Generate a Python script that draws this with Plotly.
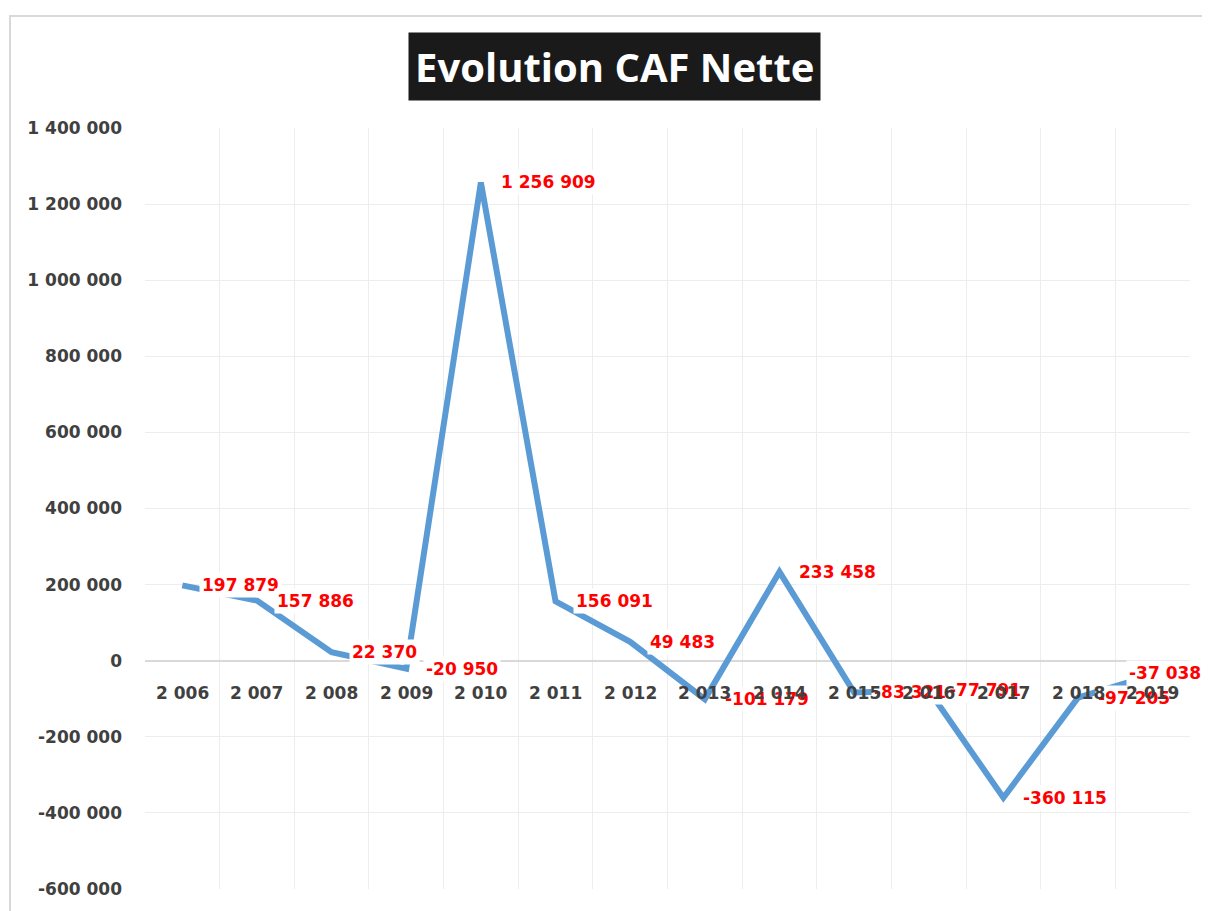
import plotly.graph_objects as go

years = ["2 006", "2 007", "2 008", "2 009", "2 010", "2 011", "2 012",
         "2 013", "2 014", "2 015", "2 016", "2 017", "2 018", "2 019"]
caf_nette = [197879, 157886, 22370, -20950, 1256909, 156091, 49483,
             -101179, 233458, -83321, -77791, -360115, -97205, -37038]
y_ticks = [1400000, 1200000, 1000000, 800000, 600000, 400000, 200000,
           0, -200000, -400000, -600000]

def fmt(v):
    s = f"{abs(v):,}".replace(",", " ")
    return ("-" if v < 0 else "") + s

# page has an 8px body margin: figure area is offset by 8px
W, H = 1202, 903
L, R, T, B = 137, 20, 120, 22
PW, PH = W - L - R, H - T - B

tick_font = dict(family="DejaVu Sans", size=17, color="#404040", weight="bold")

fig = go.Figure()
fig.add_trace(go.Scatter(
    x=years, y=caf_nette, mode="lines",
    line=dict(color="#5B9BD5", width=6),
    hoverinfo="skip", showlegend=False,
))

for i, (yr, v) in enumerate(zip(years, caf_nette)):
    last = i == len(years) - 1
    fig.add_annotation(
        x=yr, y=v, text=fmt(v), showarrow=False,
        xanchor="left", yanchor="middle",
        xshift=-27 if last else 17,
        yshift=2 if last else 0,
        font=dict(family="DejaVu Sans", size=17, color="#FF0000", weight="bold"),
        bgcolor="white", borderpad=2,
    )

# category labels sitting next to the zero axis, drawn over the data labels
for yr in years:
    fig.add_annotation(
        x=yr, y=0, text=yr, showarrow=False,
        xanchor="center", yanchor="middle", yshift=-32,
        font=tick_font,
    )

fig.add_annotation(
    xref="paper", yref="paper", x=(606 - L) / PW, y=1 + (T - 58) / PH,
    text="Evolution CAF Nette", showarrow=False,
    xanchor="center", yanchor="middle",
    font=dict(family="Open Sans", size=40, color="white", weight="bold"),
    bgcolor="#1A1A1A", borderpad=6,
)

# outer chart border
fig.add_shape(type="rect", xref="paper", yref="paper",
              x0=(2 - L) / PW, x1=(1230 - L) / PW,
              y0=-(930 - (H - B)) / PH, y1=1 + (T - 8) / PH,
              line=dict(color="#D9D9D9", width=2), layer="below")

fig.update_layout(
    width=W, height=H,
    margin=dict(l=L, r=R, t=T, b=B),
    paper_bgcolor="white", plot_bgcolor="white",
    xaxis=dict(
        type="category", categoryorder="array", categoryarray=years,
        range=[-0.5, 13.5], tickson="boundaries",
        showgrid=True, gridcolor="#EDEDED", gridwidth=1,
        ticks="", showline=False, zeroline=False,
        showticklabels=False,
    ),
    yaxis=dict(
        domain=[0, 1],
        range=[-600000, 1400000], tickvals=y_ticks,
        ticktext=[fmt(t) for t in y_ticks],
        showgrid=True, gridcolor="#EDEDED", gridwidth=1,
        zeroline=True, zerolinecolor="#D9D9D9", zerolinewidth=1.5,
        ticks="", showline=False,
        tickfont=tick_font,
        ticklabelstandoff=22,
    ),
)

fig.write_html("out.html")
